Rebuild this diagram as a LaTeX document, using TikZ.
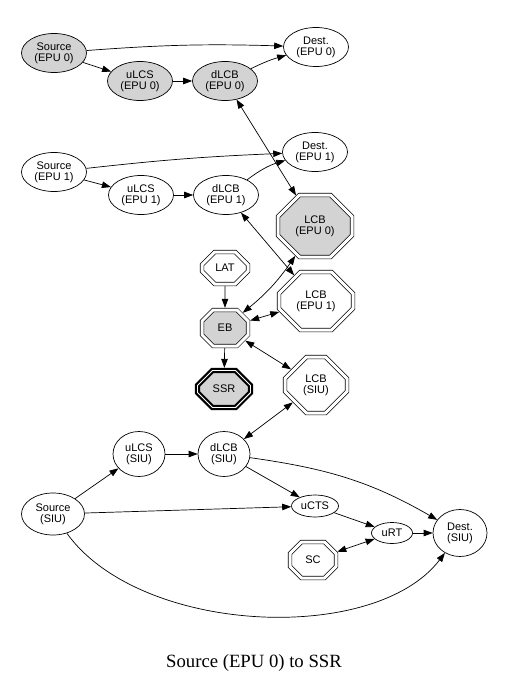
\documentclass[tikz,border=0pt]{standalone}
\usepackage{fontspec}
\setmainfont{Liberation Serif}
\newfontfamily\nodefont{Liberation Sans}
\usetikzlibrary{arrows.meta, positioning, shapes.geometric, shapes.misc}
\definecolor{nodegray}{HTML}{D3D3D3}
\tikzset{
  elnode/.style={ellipse, draw, line width=0.7pt, inner sep=0pt, align=center,
    font=\nodefont\fontsize{11}{11}\selectfont, minimum width=65pt, minimum height=39pt},
  grayel/.style={elnode, fill=nodegray},
  octnode/.style={chamfered rectangle, chamfered rectangle xsep=11pt, chamfered rectangle ysep=11pt,
    draw, double, double distance=3pt, line width=0.7pt, inner sep=0pt, outer sep=2.2pt, align=center,
    font=\nodefont\fontsize{11}{11}\selectfont},
  grayoct/.style={octnode, fill=nodegray},
  boldoct/.style={octnode, fill=nodegray, line width=2.2pt, double distance=0.9pt, outer sep=2.6pt},
  flow/.style={-{Triangle[length=9pt,width=6.5pt]}, line width=0.7pt},
  biflow/.style={{Triangle[length=9pt,width=6.5pt]}-{Triangle[length=9pt,width=6.5pt]}, line width=0.7pt}
}
\begin{document}
\begin{tikzpicture}[x=1pt,y=1pt]
\useasboundingbox (0,0) rectangle (505,-687);
% EPU 0
\node[grayel] (src0) at (54,-53) {Source\\(EPU 0)};
\node[grayel] (ulcs0) at (140,-81) {uLCS\\(EPU 0)};
\node[grayel] (dlcb0) at (225,-81) {dLCB\\(EPU 0)};
\node[elnode] (dst0) at (316,-47) {Dest.\\(EPU 0)};
% EPU 1
\node[elnode] (src1) at (54,-172) {Source\\(EPU 1)};
\node[elnode] (ulcs1) at (141,-195) {uLCS\\(EPU 1)};
\node[elnode] (dlcb1) at (226,-195) {dLCB\\(EPU 1)};
\node[elnode] (dst1) at (315,-152) {Dest.\\(EPU 1)};
% LCBs and EB
\node[grayoct, minimum width=74pt, minimum height=62pt] (lcb0) at (315,-226) {LCB\\(EPU 0)};
\node[octnode, minimum width=74pt, minimum height=58pt] (lcb1) at (316,-301) {LCB\\(EPU 1)};
\node[octnode, minimum width=62pt, minimum height=56pt] (lcbsiu) at (316,-385) {LCB\\(SIU)};
\node[octnode, minimum width=46pt, minimum height=32pt, chamfered rectangle xsep=9pt, chamfered rectangle ysep=9pt] (lat) at (225,-268) {LAT};
\node[grayoct, minimum width=46pt, minimum height=36pt, chamfered rectangle xsep=10pt, chamfered rectangle ysep=10pt] (eb) at (225,-328) {EB};
\node[boldoct, minimum width=53pt, minimum height=37pt, chamfered rectangle xsep=11pt, chamfered rectangle ysep=11pt] (ssr) at (224,-389) {SSR};
% SIU
\node[elnode, minimum width=52pt, minimum height=45pt] (ulcssiu) at (139,-454) {uLCS\\(SIU)};
\node[elnode, minimum width=52pt, minimum height=45pt] (dlcbsiu) at (224,-454) {dLCB\\(SIU)};
\node[elnode, minimum width=63pt, minimum height=42pt] (srcsiu) at (53,-514) {Source\\(SIU)};
\node[elnode, minimum width=47pt, minimum height=22pt] (ucts) at (315,-506) {uCTS};
\node[elnode, minimum width=41pt, minimum height=21pt] (urt) at (392,-533) {uRT};
\node[elnode, minimum width=54pt, minimum height=47pt] (dstsiu) at (460,-533) {Dest.\\(SIU)};
\node[octnode, minimum width=46pt, minimum height=36pt, chamfered rectangle xsep=10pt, chamfered rectangle ysep=10pt] (sc) at (313,-560) {SC};
\node[font=\fontsize{18.7}{20}\selectfont] (caption) at (254,-663) {Source (EPU 0) to SSR};
% edges
\draw[flow] (src0) to[bend left=3] (dst0);
\draw[flow] (src0) -- (ulcs0);
\draw[flow] (ulcs0) -- (dlcb0);
\draw[flow] (dlcb0) to[bend left=5] (dst0);
\draw[biflow] (dlcb0) -- (lcb0);
\draw[flow] (src1) to[bend left=2] (dst1);
\draw[flow] (src1) -- (ulcs1);
\draw[flow] (ulcs1) -- (dlcb1);
\draw[flow] (dlcb1) to[bend left=10] (dst1);
\draw[biflow] (dlcb1) -- (lcb1);
\draw[biflow] (eb) to[bend right=8] (lcb0);
\draw[flow] (lat) -- (eb);
\draw[flow] (eb) -- (ssr);
\draw[biflow] (eb) -- (lcb1);
\draw[biflow] (eb) -- (lcbsiu);
\draw[biflow] (dlcbsiu) -- (lcbsiu);
\draw[flow] (srcsiu) -- (ulcssiu);
\draw[flow] (ulcssiu) -- (dlcbsiu);
\draw[flow] (dlcbsiu) -- (ucts);
\draw[flow] (dlcbsiu) to[out=-8, in=150] (dstsiu);
\draw[flow] (srcsiu) -- (ucts);
\draw[flow] (ucts) -- (urt);
\draw[flow] (urt) -- (dstsiu);
\draw[biflow] (sc) -- (urt);
\draw[flow] (srcsiu) .. controls (140,-635) and (375,-645) .. (dstsiu);
\end{tikzpicture}
\end{document}
